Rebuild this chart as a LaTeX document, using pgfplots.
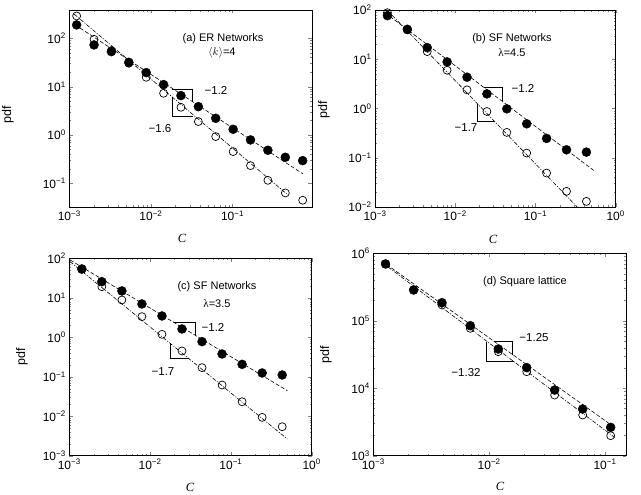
\documentclass[border=0pt]{standalone}
\usepackage{pgfplots}
\pgfplotsset{compat=1.18}
\usepackage{fontspec}
\setmainfont{Liberation Sans}
\newfontfamily\serif{Liberation Serif}

\pgfplotsset{
  pnlstyle/.style={
    scale only axis, anchor=north west,
    tick align=inside, major tick length=3.5pt, minor tick length=2pt,
    axis line style={line width=0.9pt},
    tick label style={font=\fontsize{12}{13}\selectfont},
    clip mode=individual,
  },
}
\tikzset{
  dotF/.style={only marks, mark=*, mark size=4.5pt, mark options={fill=black, draw=black}},
  dotO/.style={only marks, mark=o, mark size=4pt, mark options={draw=black, line width=0.7pt}},
  lnA/.style={line width=0.6pt, dash pattern=on 4pt off 2pt},
  lnB/.style={line width=0.6pt, dash pattern=on 4pt off 1.5pt on 1pt off 1.5pt},
  lnL/.style={line width=0.6pt},
}
\newcommand{\tlfont}{\fontsize{12.5}{13}\selectfont}
\newcommand{\annfont}{\fontsize{11}{12}\selectfont}
\newcommand{\slfont}{\fontsize{11.5}{12}\selectfont}

\begin{document}
\begin{tikzpicture}
\useasboundingbox (0,0) rectangle (641pt,495pt);

% (a) ER networks
\begin{loglogaxis}[pnlstyle, at={(69.3pt,485pt)}, width=242.7pt, height=197.3pt,
  xmin=1e-3, xmax=0.94, ymin=0.0318, ymax=385,
  xtick={1e-3,1e-2,1e-1}, xticklabels={10\textsuperscript{−3},10\textsuperscript{−2},10\textsuperscript{−1}},
  ytick={1e-1,1,10,100}, yticklabels={10\textsuperscript{−1},10\textsuperscript{0},10\textsuperscript{1},10\textsuperscript{2}}]
\addplot[lnA, mark=none] coordinates {(0.001175,190.5) (0.7295,0.156)};
\addplot[lnB, mark=none] coordinates {(0.001148,316) (0.468,0.0589)};
\addplot[lnL, mark=none] coordinates {(0.01803,8.81) (0.03258,8.81) (0.03258,4.84)};
\addplot[lnL, mark=none] coordinates {(0.01803,6.17) (0.01803,2.47) (0.03258,2.47)};
\addplot[dotO] coordinates {
(0.00123,290) (0.00201,95.3) (0.00328,55.6) (0.00536,30.4) (0.00875,15.6)
(0.01429,7.28) (0.02333,3.73) (0.0381,1.89) (0.0622,0.925) (0.1016,0.452)
(0.166,0.232) (0.271,0.115) (0.443,0.0631) (0.723,0.0445)};
\addplot[dotF] coordinates {
(0.00123,189) (0.00201,72.8) (0.00328,53.0) (0.00536,31.8) (0.00875,19.5)
(0.01429,11.0) (0.02333,6.52) (0.0381,3.85) (0.0622,2.21) (0.1016,1.31)
(0.166,0.789) (0.271,0.482) (0.443,0.345) (0.723,0.294)};
\end{loglogaxis}

% (b) SF networks, lambda = 4.5
\begin{loglogaxis}[pnlstyle, at={(375pt,485pt)}, width=240.7pt, height=197pt,
  xmin=1e-3, xmax=1, ymin=1e-2, ymax=100,
  xtick={1e-3,1e-2,1e-1,1}, xticklabels={10\textsuperscript{−3},10\textsuperscript{−2},10\textsuperscript{−1},10\textsuperscript{0}},
  ytick={1e-2,1e-1,1,10,100}, yticklabels={10\textsuperscript{−2},10\textsuperscript{−1},10\textsuperscript{0},10\textsuperscript{1},10\textsuperscript{2}}]
\addplot[lnA, mark=none] coordinates {(0.001330,88.3) (0.532,0.0553)};
\addplot[lnB, mark=none] coordinates {(0.001396,102) (0.3304,0.01)};
\addplot[lnL, mark=none] coordinates {(0.02259,2.70) (0.03846,2.70) (0.03846,1.387)};
\addplot[lnL, mark=none] coordinates {(0.01897,1.247) (0.01897,0.5623) (0.0304,0.5623)};
\addplot[dotO] coordinates {
(0.001429,88.3) (0.002529,39.4) (0.004477,14.3) (0.007925,5.98) (0.01403,2.39)
(0.02483,0.869) (0.04395,0.327) (0.0778,0.1245) (0.1377,0.0489) (0.2438,0.0208)
(0.4315,0.0130)};
\addplot[dotF] coordinates {
(0.001429,76.7) (0.002529,40.6) (0.004477,17.2) (0.007925,8.83) (0.01403,4.32)
(0.02483,1.98) (0.04395,0.984) (0.0778,0.489) (0.1377,0.247) (0.2438,0.145)
(0.4315,0.130)};
\end{loglogaxis}

% (c) SF networks, lambda = 3.5
\begin{loglogaxis}[pnlstyle, at={(69.3pt,236.7pt)}, width=242.4pt, height=197.4pt,
  xmin=1e-3, xmax=1, ymin=1e-3, ymax=100,
  xtick={1e-3,1e-2,1e-1,1}, xticklabels={10\textsuperscript{−3},10\textsuperscript{−2},10\textsuperscript{−1},10\textsuperscript{0}},
  ytick={1e-3,1e-2,1e-1,1,10,100}, yticklabels={10\textsuperscript{−3},10\textsuperscript{−2},10\textsuperscript{−1},10\textsuperscript{0},10\textsuperscript{1},10\textsuperscript{2}}]
\addplot[lnA, mark=none] coordinates {(0.001023,90.8) (0.5,0.04436)};
\addplot[lnB, mark=none] coordinates {(0.001023,82.4) (0.5,0.002642)};
\addplot[lnL, mark=none] coordinates {(0.01963,2.39) (0.03597,2.39) (0.03597,1.135)};
\addplot[lnL, mark=none] coordinates {(0.01799,0.6855) (0.01799,0.2924) (0.02992,0.2924)};
\addplot[dotO] coordinates {
(0.001429,52.5) (0.002529,19.1) (0.004477,8.79) (0.007925,3.33) (0.01403,1.186)
(0.02483,0.449) (0.04395,0.170) (0.0778,0.0618) (0.1377,0.0233) (0.2438,0.00935)
(0.4315,0.00543)};
\addplot[dotF] coordinates {
(0.001429,53.7) (0.002529,25.6) (0.004477,14.9) (0.007925,6.97) (0.01403,3.46)
(0.02483,1.62) (0.04395,0.774) (0.0778,0.377) (0.1377,0.206) (0.2438,0.1245)
(0.4315,0.1107)};
\end{loglogaxis}

% (d) square lattice
\begin{loglogaxis}[pnlstyle, at={(373.3pt,241.7pt)}, width=252.7pt, height=202.4pt,
  xmin=1e-3, xmax=0.1517, ymin=1e3, ymax=1e6,
  xtick={1e-3,1e-2,1e-1}, xticklabels={10\textsuperscript{−3},10\textsuperscript{−2},10\textsuperscript{−1}},
  ytick={1e3,1e4,1e5,1e6}, yticklabels={10\textsuperscript{3},10\textsuperscript{4},10\textsuperscript{5},10\textsuperscript{6}}]
\addplot[lnA, mark=none] coordinates {(0.00118,769000) (0.1219,2600)};
\addplot[lnB, mark=none] coordinates {(0.00118,740000) (0.1219,1849)};
\addplot[lnL, mark=none] coordinates {(0.01094,50120) (0.01596,50120) (0.01596,31480)};
\addplot[lnL, mark=none] coordinates {(0.009397,48000) (0.009397,25290) (0.01633,25290)};
\addplot[dotO] coordinates {
(0.001276,695000) (0.002228,285800) (0.003917,171400) (0.006871,77270) (0.01199,34830)
(0.02109,17580) (0.03673,7925) (0.06412,4009) (0.1119,1977)};
\addplot[dotF] coordinates {
(0.001276,695000) (0.002228,285800) (0.003917,185400) (0.006871,84530) (0.01199,38110)
(0.02109,20180) (0.03673,9397) (0.06412,4920) (0.1119,2630)};
\end{loglogaxis}

% panel texts
\begin{scope}[every node/.style={font=\annfont, inner sep=0pt}]
\node at (223pt,456pt) {(a) ER Networks};
\node at (222pt,442pt) {$\langle k\rangle$=4};
\node at (512pt,456pt) {(b) SF Networks};
\node at (512pt,442pt) {{\serif λ}=4.5};
\node at (217pt,208pt) {(c) SF Networks};
\node at (217pt,191pt) {{\serif λ}=3.5};
\node at (525pt,213pt) {(d) Square lattice};
\end{scope}
\begin{scope}[every node/.style={font=\slfont, inner sep=0pt}]
\node at (216pt,405pt) {−1.2};
\node at (160pt,366pt) {−1.6};
\node at (523pt,407pt) {−1.2};
\node at (466pt,367pt) {−1.7};
\node at (213pt,168pt) {−1.2};
\node at (163pt,123pt) {−1.7};
\node at (534pt,157pt) {−1.25};
\node at (466pt,122pt) {−1.32};
\end{scope}
\begin{scope}[every node/.style={font=\tlfont, inner sep=0pt}]
\node[rotate=90] at (8pt,380pt) {pdf};
\node[rotate=90] at (324pt,385pt) {pdf};
\node[rotate=90] at (22pt,138pt) {pdf};
\node[rotate=90] at (326pt,140pt) {pdf};
\node at (182pt,257pt) {\serif\itshape C};
\node at (493pt,256pt) {\serif\itshape C};
\node at (190pt,8pt) {\serif\itshape C};
\node at (500pt,9pt) {\serif\itshape C};
\end{scope}
\end{tikzpicture}
\end{document}
